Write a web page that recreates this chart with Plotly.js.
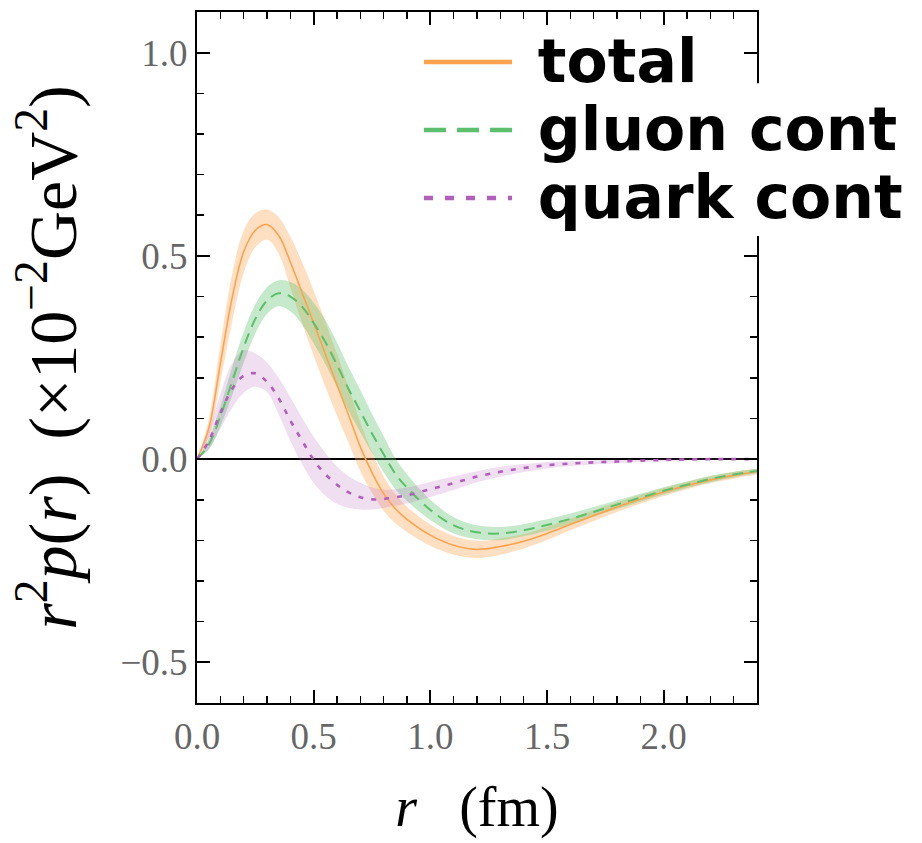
<!DOCTYPE html>
<html>
<head>
<meta charset="utf-8">
<script src="https://cdn.plot.ly/plotly-3.0.1.min.js"></script>
<style>html,body{margin:0;padding:0;background:#fff;}#chart{width:922px;height:843px;}</style>
</head>
<body>
<div id="chart"></div>
<script>
// r in fm
const r = [0,0.05,0.1,0.15,0.2,0.25,0.3,0.35,0.4,0.45,0.5,0.55,0.6,0.65,0.7,0.75,0.8,0.85,0.9,1.0,1.1,1.2,1.3,1.4,1.5,1.6,1.7,1.8,1.9,2.0,2.1,2.2,2.3,2.4];
// r^2 p(r) (x10^-2 GeV^2)
const total = [0,0.075,0.235,0.395,0.51,0.563,0.577,0.55,0.485,0.41,0.335,0.258,0.183,0.108,0.03,-0.033,-0.085,-0.122,-0.148,-0.187,-0.212,-0.222,-0.215,-0.202,-0.183,-0.161,-0.139,-0.118,-0.099,-0.081,-0.065,-0.051,-0.04,-0.031];
const totalErr = [0,0.02,0.045,0.058,0.052,0.042,0.037,0.045,0.062,0.075,0.08,0.08,0.076,0.068,0.06,0.05,0.042,0.036,0.031,0.026,0.023,0.021,0.02,0.018,0.016,0.014,0.013,0.012,0.011,0.01,0.009,0.008,0.008,0.007];
const gluon = [0,0.035,0.105,0.19,0.275,0.345,0.39,0.408,0.40,0.375,0.335,0.288,0.232,0.172,0.118,0.063,0.012,-0.036,-0.07,-0.125,-0.163,-0.18,-0.183,-0.175,-0.162,-0.147,-0.13,-0.112,-0.095,-0.078,-0.063,-0.049,-0.038,-0.029];
const gluonErr = [0,0.012,0.025,0.035,0.038,0.036,0.033,0.032,0.036,0.043,0.05,0.054,0.055,0.054,0.052,0.048,0.044,0.038,0.033,0.025,0.02,0.017,0.016,0.015,0.014,0.013,0.012,0.011,0.01,0.009,0.008,0.008,0.007,0.006];
const quark = [0,0.044,0.113,0.172,0.205,0.211,0.19,0.15,0.095,0.046,-0.002,-0.037,-0.063,-0.082,-0.094,-0.099,-0.098,-0.094,-0.089,-0.074,-0.059,-0.043,-0.031,-0.022,-0.015,-0.011,-0.008,-0.006,-0.004,-0.002,-0.001,0,0,0];
const quarkLo = [0,0.025,0.075,0.125,0.163,0.178,0.165,0.11,0.045,-0.012,-0.058,-0.09,-0.11,-0.12,-0.124,-0.124,-0.12,-0.115,-0.109,-0.093,-0.076,-0.057,-0.043,-0.032,-0.023,-0.017,-0.013,-0.01,-0.007,-0.005,-0.003,-0.002,-0.002,-0.002];
const quarkHi = [0,0.07,0.16,0.235,0.268,0.26,0.238,0.2,0.152,0.102,0.055,0.015,-0.018,-0.042,-0.058,-0.07,-0.075,-0.074,-0.07,-0.056,-0.043,-0.03,-0.019,-0.012,-0.007,-0.005,-0.003,-0.002,-0.001,0.001,0.002,0.002,0.002,0.002];

const names = ['total','gluon cont','quark cont'];
const lineColors = ['#ffa24d','#5cbf6b','#b25fbb'];
const bandColors = ['rgba(255,162,77,0.35)','rgba(92,191,107,0.35)','rgba(178,95,187,0.2)'];
const dashes = ['solid','11px,7px','5px,8px'];
const legendDashes = ['solid','22px,11px','9px,12px'];
const widths = [1.6,2,2.6];

const centers = [total, gluon, quark];
const lows = [total.map((v,i)=>v-totalErr[i]), gluon.map((v,i)=>v-gluonErr[i]), quarkLo];
const highs = [total.map((v,i)=>v+totalErr[i]), gluon.map((v,i)=>v+gluonErr[i]), quarkHi];

const traces = [];
for (let k = 0; k < 3; k++) {
  traces.push({x:r, y:lows[k], mode:'lines', line:{width:0, shape:'spline', color:bandColors[k]}, showlegend:false, hoverinfo:'skip'});
  traces.push({x:r, y:highs[k], mode:'lines', line:{width:0, shape:'spline', color:bandColors[k]}, fill:'tonexty', fillcolor:bandColors[k], showlegend:false, hoverinfo:'skip'});
}
for (let k = 0; k < 3; k++) {
  traces.push({x:r, y:centers[k], mode:'lines', name:names[k], showlegend:false,
    line:{color:lineColors[k], width:widths[k], dash:dashes[k], shape:'spline'}});
}
// legend entries (thicker sample lines, as in the reference legend)
for (let k = 0; k < 3; k++) {
  traces.push({x:[null], y:[null], mode:'lines', showlegend:true,
    name:'<b><span style="font-size:60px">\u00a0'+names[k]+'</span></b>',
    line:{color:lineColors[k], width:4.5, dash:legendDashes[k]}});
}

const serif = 'Liberation Serif, DejaVu Serif, serif';
const tickFont = {family:serif, size:37, color:'#666666'};
const layout = {
  width:922, height:843,
  margin:{l:197, r:165, t:12, b:140, autoexpand:false},
  paper_bgcolor:'#ffffff', plot_bgcolor:'#ffffff',
  showlegend:true,
  legend:{x:0.3964, y:0.984, xanchor:'left', yanchor:'top', bgcolor:'rgba(255,255,255,0)', borderwidth:0,
    itemwidth:88, font:{family:'DejaVu Sans, sans-serif', size:50, color:'#000000'}, traceorder:'normal'},
  // white backing behind the legend labels where they cross the right frame (as in the reference)
  shapes:[{type:'rect', xref:'paper', yref:'paper', x0:0.975, x1:1.03, y0:0.676, y1:0.897,
    fillcolor:'#ffffff', line:{width:0}, layer:'above'}],
  xaxis:{range:[0,2.4], tickvals:[0,0.5,1.0,1.5,2.0], ticktext:['0.0','0.5','1.0','1.5','2.0'],
    ticks:'inside', ticklen:13, tickwidth:2, tickcolor:'#000', showline:true, linewidth:2, linecolor:'#000', mirror:'ticks',
    showgrid:false, zeroline:false, tickfont:tickFont,
    minor:{ticks:'inside', dtick:0.1, ticklen:7, tickwidth:1.5, tickcolor:'#000', showgrid:false},
    title:{text:'<i>r</i>\u00a0\u00a0\u00a0(fm)', font:{family:serif, size:56, color:'#000'}, standoff:30}},
  yaxis:{range:[-0.6,1.1], tickvals:[-0.5,0,0.5,1.0], ticktext:['\u22120.5','0.0','0.5','1.0'],
    ticks:'inside', ticklen:13, tickwidth:2, tickcolor:'#000', showline:true, linewidth:2, linecolor:'#000', mirror:'ticks',
    showgrid:false, zeroline:true, zerolinecolor:'#000', zerolinewidth:2, tickfont:tickFont,
    minor:{ticks:'inside', dtick:0.1, ticklen:7, tickwidth:1.5, tickcolor:'#000', showgrid:false},
    title:{text:'<i>r</i><sup>2</sup><i>p</i>(<i>r</i>)\u00a0 (\u00d710<sup>\u22122</sup>GeV<sup>2</sup>)', font:{family:serif, size:68, color:'#000'}, standoff:22}}
};

Plotly.newPlot('chart', traces, layout, {staticPlot:true});
</script>
</body>
</html>
